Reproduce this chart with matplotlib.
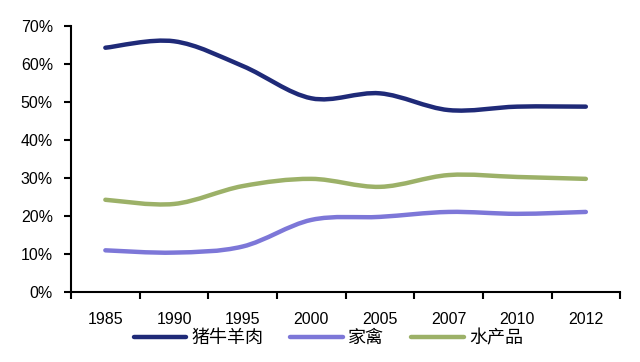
import matplotlib
matplotlib.use("Agg")
import matplotlib.pyplot as plt
from matplotlib.path import Path
from matplotlib.patches import PathPatch
from matplotlib.lines import Line2D
from matplotlib.ticker import FuncFormatter

plt.rcParams['font.family'] = ['Liberation Sans', 'Noto Sans CJK SC', 'DejaVu Sans']

YEARS = ["1985", "1990", "1995", "2000", "2005", "2007", "2010", "2012"]
PORK  = [64.3, 66.0, 59.5, 51.0, 52.3, 47.9, 48.8, 48.8]   # 猪牛羊肉
POULTRY = [11.0, 10.4, 12.0, 19.0, 19.8, 21.1, 20.6, 21.1]  # 家禽
AQUA  = [24.3, 23.2, 27.9, 29.8, 27.7, 30.8, 30.3, 29.8]    # 水产品

SERIES = [("猪牛羊肉", PORK, "#1f2a78"),
          ("家禽", POULTRY, "#7d77d8"),
          ("水产品", AQUA, "#9cb168")]


def smooth_path(xs, ys):
    # Excel 风格的平滑线：Catmull-Rom 转三次贝塞尔
    pts = list(zip(xs, ys))
    verts = [pts[0]]
    codes = [Path.MOVETO]
    n = len(pts)
    for i in range(n - 1):
        p0 = pts[i - 1] if i > 0 else pts[i]
        p1 = pts[i]
        p2 = pts[i + 1]
        p3 = pts[i + 2] if i + 2 < n else pts[i + 1]
        c1 = (p1[0] + (p2[0] - p0[0]) / 6, p1[1] + (p2[1] - p0[1]) / 6)
        c2 = (p2[0] - (p3[0] - p1[0]) / 6, p2[1] - (p3[1] - p1[1]) / 6)
        verts += [c1, c2, p2]
        codes += [Path.CURVE4] * 3
    return Path(verts, codes)


fig = plt.figure(figsize=(6.4, 3.62), dpi=100)
ax = fig.add_axes([0.111, 0.193, 0.858, 0.735])

xs = list(range(len(YEARS)))
handles = []
for label, vals, color in SERIES:
    patch = PathPatch(smooth_path(xs, vals), facecolor="none", edgecolor=color,
                      linewidth=3.2, capstyle="round", joinstyle="round")
    ax.add_patch(patch)
    handles.append(Line2D([], [], color=color, linewidth=3.2,
                          solid_capstyle="round", label=label))

ax.set_xlim(-0.5, len(YEARS) - 0.5)
ax.set_ylim(0, 70)
ax.set_yticks(range(0, 71, 10))
ax.yaxis.set_major_formatter(FuncFormatter(lambda v, _: f"{v:.0f}%"))
ax.set_xticks(xs)
ax.set_xticklabels(YEARS)
ax.set_xticks([x - 0.5 for x in range(len(YEARS) + 1)], minor=True)
ax.tick_params(axis="x", which="major", length=0, pad=14, labelsize=11.5)
ax.tick_params(axis="x", which="minor", length=5, width=1.5, direction="out")
ax.tick_params(axis="y", length=5, width=1.5, direction="out", pad=8, labelsize=11.5)

ax.spines['top'].set_visible(False)
ax.spines['right'].set_visible(False)
ax.spines['left'].set_linewidth(1.5)
ax.spines['bottom'].set_linewidth(1.5)

fig.legend(handles=handles, loc="center", bbox_to_anchor=(0.513, 0.066), ncol=3,
           frameon=False, handlelength=2.9, handletextpad=0.3,
           columnspacing=1.5, prop={'family': ['Noto Sans CJK SC', 'DejaVu Sans'], 'size': 13})

fig.savefig("out.png", dpi=100)
